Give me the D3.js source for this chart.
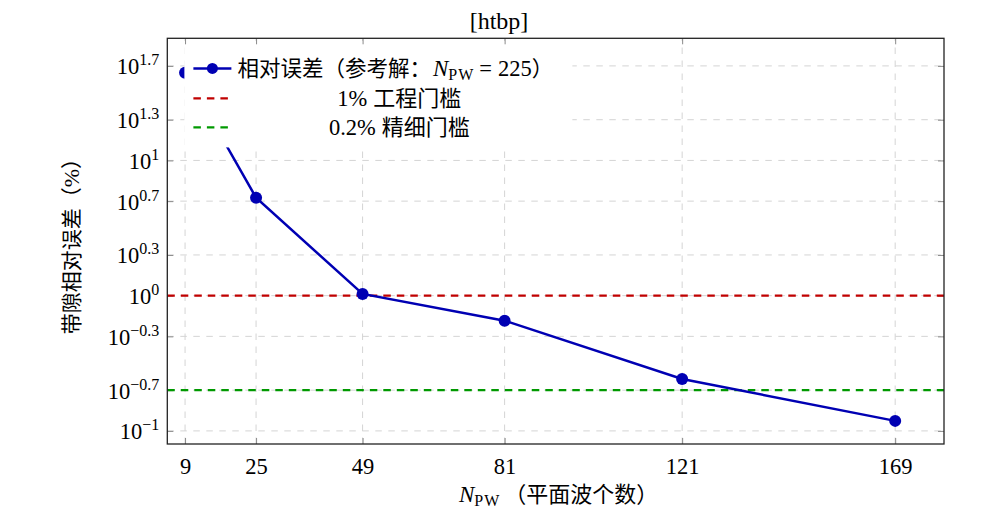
<!DOCTYPE html>
<html>
<head>
<meta charset="utf-8">
<script src="https://cdn.jsdelivr.net/npm/d3@7"></script>
<style>
  body { margin: 0; background: #fff; }
  text { font-family: "Liberation Serif", "Noto Sans CJK SC", serif; fill: #000; }
  .latin { font-family: "Liberation Serif", serif; }
  .cjk { font-family: "Noto Sans CJK SC", sans-serif; }
</style>
</head>
<body>
<div id="chart-container"></div>
<script>
/* CONSTANTS AND GLOBALS */
const width = 998,
  height = 527,
  margin = { top: 38.3, bottom: 83, left: 167.3, right: 54 },
  radius = 6
  ;

/* DATA */
const nPW = [9, 25, 49, 81, 121, 169];
const relError = [44.5, 5.3, 1.03, 0.653, 0.242, 0.1186];
const xTicks = [9, 25, 49, 81, 121, 169];
const yTicks = [0.1, 0.2, 0.5, 1, 2, 5, 10, 20, 50];
const yTickExponents = ["\u22121", "\u22120.7", "\u22120.3", "0", "0.3", "0.7", "1", "1.3", "1.7"];
const thresholds = [1, 0.2];
const thresholdColors = ["#c00000", "#009900"];
const legendLabels = ["1% 工程门槛", "0.2% 精细门槛"];
const lineColor = "#0000b3";

const svg = d3.select("#chart-container")
  .append("svg")
  .attr("width", width)
  .attr("height", height);

// + SCALES
const xScale = d3.scaleLinear()
  .domain([5, 180])
  .range([margin.left, width - margin.right]);

const yScale = d3.scaleLog()
  .domain([0.08, 80])
  .range([height - margin.bottom, margin.top]);

const x0 = xScale.range()[0], x1 = xScale.range()[1];
const y0 = yScale.range()[0], y1 = yScale.range()[1];

// + GRID
const grid = svg.append("g").attr("class", "grid")
  .attr("stroke", "#d4d4d4")
  .attr("stroke-width", 1)
  .attr("stroke-dasharray", "6.5,6.5");

grid.selectAll(".vgrid")
  .data(xTicks)
  .join("line")
  .attr("class", "vgrid")
  .attr("x1", d => xScale(d)).attr("x2", d => xScale(d))
  .attr("y1", y0).attr("y2", y1);

grid.selectAll(".hgrid")
  .data(yTicks)
  .join("line")
  .attr("class", "hgrid")
  .attr("x1", x0).attr("x2", x1)
  .attr("y1", d => yScale(d)).attr("y2", d => yScale(d));

// + AXES (pgfplots style: inward ticks on all sides)
const tickLen = 6;
const xAxisBottom = d3.axisBottom(xScale).tickValues(xTicks).tickSizeInner(-tickLen).tickSizeOuter(0).tickPadding(14);
const xAxisTop = d3.axisTop(xScale).tickValues(xTicks).tickSizeInner(-tickLen).tickSizeOuter(0).tickFormat("");
const yAxisLeft = d3.axisLeft(yScale).tickValues(yTicks).tickSizeInner(-tickLen).tickSizeOuter(0).tickFormat("");
const yAxisRight = d3.axisRight(yScale).tickValues(yTicks).tickSizeInner(-tickLen).tickSizeOuter(0).tickFormat("");

const xAxisGroup = svg.append("g")
  .attr("class", "xAxis")
  .attr("transform", `translate(0, ${y0})`)
  .call(xAxisBottom);

svg.append("g").attr("transform", `translate(0, ${y1})`).call(xAxisTop);

const yAxisGroup = svg.append("g")
  .attr("class", "yAxis")
  .attr("transform", `translate(${x0}, 0)`)
  .call(yAxisLeft);

svg.append("g").attr("transform", `translate(${x1}, 0)`).call(yAxisRight);

svg.selectAll(".domain").remove();
svg.selectAll(".tick line").attr("stroke", "#8a8a8a").attr("stroke-width", 1);

xAxisGroup.selectAll("text")
  .attr("class", "latin")
  .attr("font-size", 22.5)
  .attr("dy", "0.72em");

// y tick labels as 10^exp
yAxisGroup.selectAll(".tick")
  .append("text")
  .attr("class", "latin")
  .attr("x", -8)
  .attr("y", 8)
  .attr("text-anchor", "end")
  .attr("font-size", 22.5)
  .each(function (d, i) {
    const t = d3.select(this);
    t.append("tspan").text("10");
    t.append("tspan")
      .attr("font-size", 16)
      .attr("dy", -9)
      .text(yTickExponents[i]);
  });

// + THRESHOLD LINES
svg.selectAll(".threshold")
  .data(thresholds)
  .join("line")
  .attr("class", "threshold")
  .attr("x1", x0).attr("x2", x1)
  .attr("y1", d => yScale(d)).attr("y2", d => yScale(d))
  .attr("stroke", (d, i) => thresholdColors[i])
  .attr("stroke-width", 2.3)
  .attr("stroke-dasharray", "7.5,6");

// + DATA LINE
const points = nPW.map((d, i) => ({ x: d, y: relError[i] }));

const lineGen = d3.line()
  .x(d => xScale(d.x))
  .y(d => yScale(d.y))
  .curve(d3.curveLinear);

svg.append("path")
  .datum(points)
  .attr("class", "line")
  .attr("fill", "none")
  .attr("stroke", lineColor)
  .attr("stroke-width", 2.5)
  .attr("d", lineGen);

svg.selectAll(".dot")
  .data(points)
  .join("circle")
  .attr("class", "dot")
  .attr("cx", d => xScale(d.x))
  .attr("cy", d => yScale(d.y))
  .attr("r", radius)
  .attr("fill", lineColor);

// + LEGEND (anchored north west at 2% / 98% of the axis box)
const legX = x0 + 0.022 * (x1 - x0),
  legY = y0 - 0.98 * (y0 - y1),
  legW = 388,
  legH = 101,
  rowY = [22, 52, 81],
  textCenter = 215;

const legend = svg.append("g")
  .attr("class", "legend")
  .attr("transform", `translate(${legX}, ${legY})`);

legend.append("rect")
  .attr("width", legW)
  .attr("height", legH)
  .attr("fill", "#fff");

// row 1: data series
legend.append("line")
  .attr("x1", 9).attr("x2", 47)
  .attr("y1", rowY[0]).attr("y2", rowY[0])
  .attr("stroke", lineColor).attr("stroke-width", 2.5);
legend.append("circle")
  .attr("cx", 28).attr("cy", rowY[0]).attr("r", 5.5)
  .attr("fill", lineColor);

const row1 = legend.append("text")
  .attr("x", 53)
  .attr("y", rowY[0] + 8)
  .attr("font-size", 21.5);
row1.append("tspan").attr("class", "cjk").text("相对误差（参考解：");
row1.append("tspan").attr("class", "latin").attr("font-style", "italic").attr("font-size", 23).attr("dx", 2).text("N");
row1.append("tspan").attr("class", "latin").attr("font-size", 16).attr("dy", 4).attr("letter-spacing", 1).text("PW");
row1.append("tspan").attr("class", "latin").attr("dy", -4).attr("dx", 5).attr("font-size", 22.5).text("=");
row1.append("tspan").attr("class", "latin").attr("dx", 6).attr("font-size", 22.5).text("225");
row1.append("tspan").attr("class", "cjk").text("）");

// rows 2-3: thresholds
legend.selectAll(".legend-dash")
  .data(thresholds)
  .join("line")
  .attr("class", "legend-dash")
  .attr("x1", 9).attr("x2", 47)
  .attr("y1", (d, i) => rowY[i + 1]).attr("y2", (d, i) => rowY[i + 1])
  .attr("stroke", (d, i) => thresholdColors[i])
  .attr("stroke-width", 2.3)
  .attr("stroke-dasharray", "7.5,6");

legend.selectAll(".legend-label")
  .data(legendLabels)
  .join("text")
  .attr("class", "legend-label")
  .attr("x", textCenter)
  .attr("y", (d, i) => rowY[i + 1] + 8)
  .attr("text-anchor", "middle")
  .attr("font-size", 22)
  .each(function (d) {
    const cut = d.indexOf(" ");
    const t = d3.select(this);
    t.append("tspan").attr("class", "latin").attr("font-size", 22.5).text(d.slice(0, cut));
    t.append("tspan").attr("class", "cjk").attr("dx", 6).text(d.slice(cut + 1));
  });

// + AXIS FRAME
svg.append("rect")
  .attr("x", x0).attr("y", y1)
  .attr("width", x1 - x0).attr("height", y0 - y1)
  .attr("fill", "none")
  .attr("stroke", "#222")
  .attr("stroke-width", 1.3);

// + TITLE AND AXIS LABELS
svg.append("text")
  .attr("class", "latin")
  .attr("x", width / 2)
  .attr("y", 29)
  .attr("text-anchor", "middle")
  .attr("font-size", 24)
  .text("[htbp]");

const xLabel = svg.append("text")
  .attr("x", (x0 + x1) / 2 + 3)
  .attr("y", 502)
  .attr("text-anchor", "middle")
  .attr("font-size", 22);
xLabel.append("tspan").attr("class", "latin").attr("font-style", "italic").attr("font-size", 23).text("N");
xLabel.append("tspan").attr("class", "latin").attr("font-size", 16).attr("dy", 4).attr("letter-spacing", 1).text("PW");
xLabel.append("tspan").attr("class", "cjk").attr("dy", -4).attr("dx", 4).text("（平面波个数）");

const yLabel = svg.append("text")
  .attr("transform", `translate(79, ${(y0 + y1) / 2}) rotate(-90)`)
  .attr("text-anchor", "middle")
  .attr("font-size", 21);
yLabel.append("tspan").attr("class", "cjk").text("带隙相对误差（");
yLabel.append("tspan").attr("class", "latin").attr("font-size", 22).text("%");
yLabel.append("tspan").attr("class", "cjk").text("）");
</script>
</body>
</html>
